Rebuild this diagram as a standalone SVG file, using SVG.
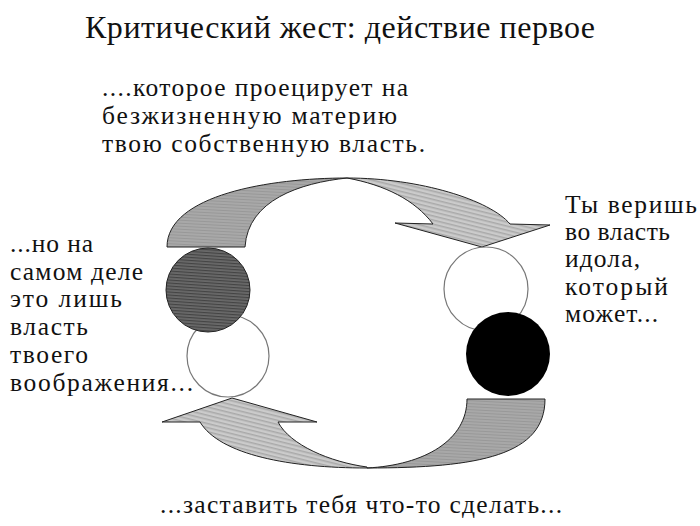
<svg xmlns="http://www.w3.org/2000/svg" width="700" height="526" viewBox="0 0 700 526">
<defs>
<pattern id="hatchLight" width="4" height="4" patternUnits="userSpaceOnUse" patternTransform="rotate(14)">
<rect width="4" height="4" fill="#cbcbcb"/>
<rect y="0" width="4" height="1.5" fill="#a9a9a9"/>
</pattern>
<pattern id="hatchMid" width="3" height="3" patternUnits="userSpaceOnUse" patternTransform="rotate(3)">
<rect width="3" height="3" fill="#a8a8a8"/>
<rect y="0" width="3" height="1" fill="#989898"/>
</pattern>
<pattern id="hatchDark" width="3" height="3" patternUnits="userSpaceOnUse" patternTransform="rotate(4)">
<rect width="3" height="3" fill="#6a6a6a"/>
<rect y="0" width="3" height="1.2" fill="#444"/>
</pattern>
</defs>
<style>
text{font-family:"Liberation Serif","DejaVu Serif",serif;fill:#111;}
.title{font-size:32px;}
.lbl{font-size:25.5px;}
.band{stroke:#222;stroke-width:1;stroke-linejoin:round;}
.light{fill:url(#hatchLight);}
.mid{fill:url(#hatchMid);}
.ring{fill:#fff;stroke:#777;stroke-width:1.2;}
</style>
<rect width="700" height="526" fill="#fff"/>
<text class="title" x="85" y="38" textLength="510" lengthAdjust="spacing">Критический жест: действие первое</text>

<g id="connectors">
<g id="arrow-top">
<path class="band mid" d="M167,247 C167,195 270,178 347,178 C300,183 248,200 245,247 Z"/>
<path class="band light" d="M347,178 C420,178 490,200 510,224 L550,225 L482,247 L395,223 L433,224 C415,200 385,185 347,178 Z"/>
</g>
<g id="arrow-bottom">
<path class="band mid" d="M467,399 L545,399 C545,455 480,468 367,468 C425,465 467,440 467,399 Z"/>
<path class="band light" d="M367,468 C290,468 220,455 200,422 L162,422 L232,398 L317,422 L278,422 C290,445 330,462 367,467 Z"/>
</g>
</g>

<g id="node-left-white"><circle class="ring" cx="228" cy="356" r="41"/></g>
<g id="node-left-dark"><circle cx="208" cy="290" r="42" fill="url(#hatchDark)" stroke="#222" stroke-width="1"/></g>
<g id="node-right-white"><circle class="ring" cx="486" cy="289" r="42"/></g>
<g id="node-right-black"><circle cx="508" cy="354" r="42" fill="#000"/></g>

<g id="label-top">
<text class="lbl" x="102" y="96" textLength="306" lengthAdjust="spacing">....которое проецирует на</text>
<text class="lbl" x="102" y="124" textLength="295" lengthAdjust="spacing">безжизненную материю</text>
<text class="lbl" x="102" y="152" textLength="323" lengthAdjust="spacing">твою собственную власть.</text>
</g>
<g id="label-left">
<text class="lbl" x="10" y="252" textLength="83" lengthAdjust="spacing">...но на</text>
<text class="lbl" x="10" y="280" textLength="133" lengthAdjust="spacing">самом деле</text>
<text class="lbl" x="10" y="307" textLength="112" lengthAdjust="spacing">это лишь</text>
<text class="lbl" x="10" y="335" textLength="78" lengthAdjust="spacing">власть</text>
<text class="lbl" x="10" y="363" textLength="78" lengthAdjust="spacing">твоего</text>
<text class="lbl" x="10" y="391" textLength="183" lengthAdjust="spacing">воображения...</text>
</g>
<g id="label-right">
<text class="lbl" x="565" y="213" textLength="132" lengthAdjust="spacing">Ты веришь</text>
<text class="lbl" x="565" y="240" textLength="105" lengthAdjust="spacing">во власть</text>
<text class="lbl" x="565" y="267" textLength="75" lengthAdjust="spacing">идола,</text>
<text class="lbl" x="565" y="295" textLength="103" lengthAdjust="spacing">который</text>
<text class="lbl" x="565" y="322" textLength="93" lengthAdjust="spacing">может...</text>
</g>
<g id="label-bottom">
<text class="lbl" x="160" y="513" textLength="402" lengthAdjust="spacing">...заставить тебя что-то сделать...</text>
</g>
</svg>
